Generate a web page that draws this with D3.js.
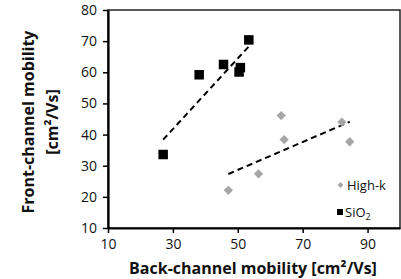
<!DOCTYPE html>
<html>
<head>
<meta charset="utf-8">
<script src="https://cdn.jsdelivr.net/npm/d3@7"></script>
<style>
  body { margin: 0; background: #fff; }
  text { font-family: "Open Sans", sans-serif; }
</style>
</head>
<body>
<div id="chart"></div>
<script>
// data
const sio2Back = [27.0, 38.1, 45.6, 50.8, 50.4, 53.4];
const sio2Front = [33.6, 59.2, 62.5, 61.5, 60.1, 70.4];
const highkBack = [47.1, 56.4, 63.4, 64.3, 82.1, 84.5];
const highkFront = [22.1, 27.4, 46.1, 38.4, 44.0, 37.7];
const xTicks = [10, 30, 50, 70, 90];
const yTicks = [10, 20, 30, 40, 50, 60, 70, 80];

const W = 401, H = 279;
const margin = { top: 10, right: 1, bottom: 51, left: 108 };
const width = W - margin.left - margin.right;
const height = H - margin.top - margin.bottom;

const svg = d3.select("#chart").append("svg")
    .attr("width", W)
    .attr("height", H);

const g = svg.append("g")
    .attr("transform", `translate(${margin.left},${margin.top})`);

const x = d3.scaleLinear().domain([10, 100]).range([0, width]);
const y = d3.scaleLinear().domain([10, 80]).range([height, 0]);

// frame
g.append("rect")
    .attr("width", width).attr("height", height)
    .attr("fill", "none").attr("stroke", "#222").attr("stroke-width", 1.5);

// axes
const xAxis = g.append("g")
    .attr("transform", `translate(0,${height})`)
    .call(d3.axisBottom(x).tickValues(xTicks).tickSize(5).tickPadding(6).tickSizeOuter(0));
const yAxis = g.append("g")
    .call(d3.axisLeft(y).tickValues(yTicks).tickSize(5).tickPadding(6).tickSizeOuter(0));

[xAxis, yAxis].forEach(a => {
  a.select(".domain").attr("stroke", "#000").attr("stroke-width", 2.2);
  a.selectAll(".tick line").attr("stroke", "#000").attr("stroke-width", 1.5);
  a.selectAll(".tick text")
      .style("font-family", "'Open Sans', sans-serif")
      .style("font-size", "14px").attr("fill", "#111");
});

// trend lines (least squares over each series)
function fit(xs, ys) {
  const mx = d3.mean(xs), my = d3.mean(ys);
  const b = d3.sum(xs, (v, i) => (v - mx) * (ys[i] - my)) / d3.sum(xs, v => (v - mx) ** 2);
  const a = my - b * mx;
  const x0 = d3.min(xs), x1 = d3.max(xs);
  return [[x0, a + b * x0], [x1, a + b * x1]];
}
const line = d3.line().x(d => x(d[0])).y(d => y(d[1]));
[[sio2Back, sio2Front], [highkBack, highkFront]].forEach(([xs, ys]) => {
  g.append("path")
      .attr("d", line(fit(xs, ys)))
      .attr("fill", "none").attr("stroke", "#000")
      .attr("stroke-width", 2).attr("stroke-dasharray", "6,4");
});

// points
const diamond = d3.symbol().type(d3.symbolDiamond2).size(55);
g.selectAll(".hk").data(highkBack).join("path")
    .attr("d", diamond)
    .attr("transform", (d, i) => `translate(${x(d)},${y(highkFront[i])})`)
    .attr("fill", "#a6a6a6");

g.selectAll(".si").data(sio2Back).join("rect")
    .attr("x", d => x(d) - 4.75)
    .attr("y", (d, i) => y(sio2Front[i]) - 4.75)
    .attr("width", 9.5).attr("height", 9.5)
    .attr("fill", "#000");

// legend
const leg = g.append("g");
leg.append("path")
    .attr("d", d3.symbol().type(d3.symbolDiamond2).size(22))
    .attr("transform", `translate(${340.5 - margin.left},${185 - margin.top})`)
    .attr("fill", "#a6a6a6");
leg.append("text")
    .attr("x", 347 - margin.left).attr("y", 185 - margin.top)
    .attr("dy", "0.35em").style("font-size", "13px").attr("fill", "#111")
    .text("High-k");
leg.append("rect")
    .attr("x", 337 - margin.left).attr("y", 209 - margin.top)
    .attr("width", 6).attr("height", 6).attr("fill", "#000");
const sio = leg.append("text")
    .attr("x", 345 - margin.left).attr("y", 212 - margin.top)
    .attr("dy", "0.35em").style("font-size", "13px").attr("fill", "#111")
    .text("SiO");
sio.append("tspan").attr("dy", 3).style("font-size", "9px").text("2");

// axis titles
svg.append("text")
    .attr("x", 253).attr("y", 273.5)
    .attr("text-anchor", "middle")
    .style("font-size", "16px").style("font-weight", "bold").attr("fill", "#111")
    .text("Back-channel mobility [cm²/Vs]");

const yt = svg.append("text")
    .attr("transform", "translate(28,122) rotate(-90)")
    .attr("text-anchor", "middle")
    .style("font-size", "16px").style("font-weight", "bold").attr("fill", "#111");
yt.append("tspan").attr("x", 0).attr("dy", "0.35em").text("Front-channel mobility");
yt.append("tspan").attr("x", 0).attr("dy", 24).text("[cm²/Vs]");
</script>
</body>
</html>
